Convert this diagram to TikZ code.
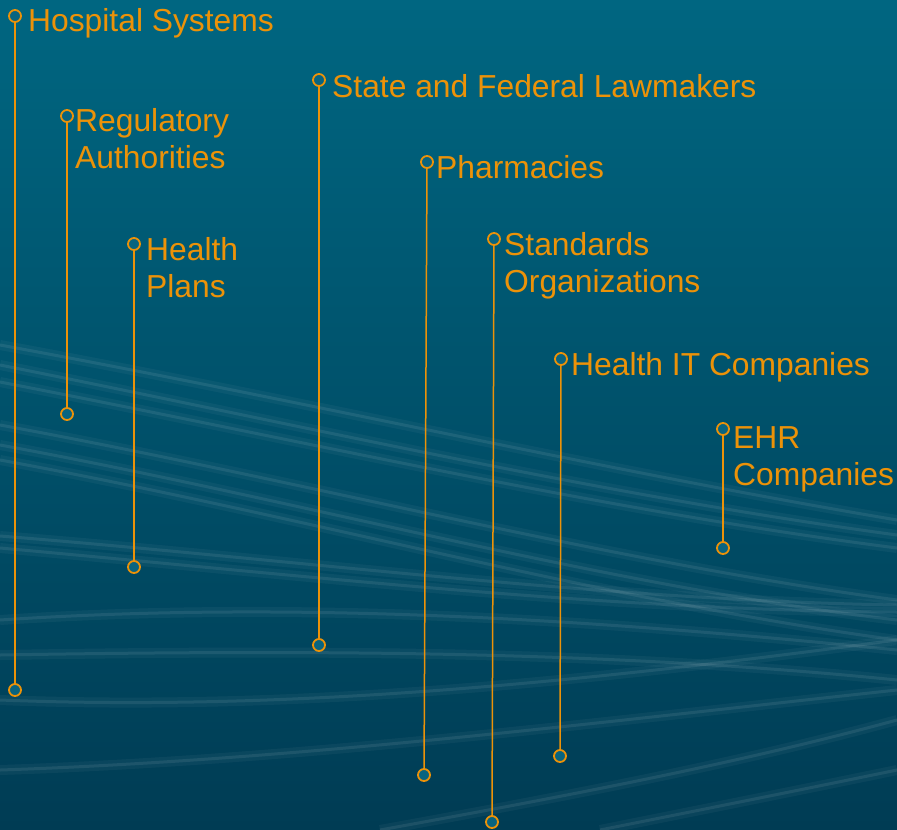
\documentclass[tikz,border=0pt]{standalone}
\usepackage{fontspec}
\setmainfont{Liberation Sans}
\usetikzlibrary{positioning}
\definecolor{tealtop}{RGB}{0,102,129}
\definecolor{tealbot}{RGB}{0,60,84}
\definecolor{dotfill}{RGB}{8,100,128}
\definecolor{amber}{RGB}{236,146,8}

\begin{document}
\begin{tikzpicture}[x=1pt,y=-1pt,
   dot/.style={circle,draw=amber,fill=dotfill,line width=1.8pt,inner sep=0pt,minimum size=12pt},
   stem/.style={amber,line width=1.5pt},
   lbl/.style={text=amber,anchor=base west,align=left,inner sep=0pt,font=\fontsize{31.8}{37}\selectfont},
   streak/.style={white,opacity=.08,line width=3pt,
      preaction={draw,white,opacity=.04,line width=10pt}}]
\useasboundingbox (0,0) rectangle (897,830);
\shade[top color=tealtop,bottom color=tealbot] (0,0) rectangle (897,830);
% soft light streaks
\begin{scope}
\clip (0,0) rectangle (897,830);
\draw[streak] (0,345) .. controls (300,400) and (600,470) .. (897,520);
\draw[streak] (0,365) .. controls (300,425) and (600,495) .. (897,535);
\draw[streak] (0,382) .. controls (300,440) and (600,510) .. (897,548);
\draw[streak] (0,425) .. controls (300,480) and (600,560) .. (897,600);
\draw[streak] (0,445) .. controls (300,500) and (600,585) .. (897,620);
\draw[streak] (0,460) .. controls (300,515) and (600,600) .. (897,640);
\draw[streak] (0,536) .. controls (300,560) and (600,600) .. (897,605);
\draw[streak] (0,548) .. controls (300,575) and (600,610) .. (897,612);
\draw[streak] (0,620) .. controls (300,600) and (600,620) .. (897,650);
\draw[streak] (0,655) .. controls (300,650) and (600,650) .. (897,680);
\draw[streak] (0,700) .. controls (300,712) and (600,680) .. (897,640);
\draw[streak] (0,770) .. controls (300,760) and (600,722) .. (897,690);
\draw[streak] (380,830) .. controls (600,790) and (750,760) .. (897,720);
\draw[streak] (600,830) .. controls (700,810) and (800,790) .. (897,770);
\end{scope}

\node[dot] (hospT) at (15,16) {};
\node[dot] (hospB) at (15,690) {};
\node[dot] (regT) at (67,116) {};
\node[dot] (regB) at (67,414) {};
\node[dot] (planT) at (134,244) {};
\node[dot] (planB) at (134,567) {};
\node[dot] (lawT) at (319,80) {};
\node[dot] (lawB) at (319,645) {};
\node[dot] (pharmT) at (427,162) {};
\node[dot] (pharmB) at (424,775) {};
\node[dot] (stdT) at (494,239) {};
\node[dot] (stdB) at (492,822) {};
\node[dot] (hitT) at (561,359) {};
\node[dot] (hitB) at (560,756) {};
\node[dot] (ehrT) at (723,429) {};
\node[dot] (ehrB) at (723,548) {};

\draw[stem] (hospT) -- (hospB);
\draw[stem] (regT) -- (regB);
\draw[stem] (planT) -- (planB);
\draw[stem] (lawT) -- (lawB);
\draw[stem] (pharmT) -- (pharmB);
\draw[stem] (stdT) -- (stdB);
\draw[stem] (hitT) -- (hitB);
\draw[stem] (ehrT) -- (ehrB);

\node[lbl] (hosp) at (28,31) {Hospital Systems};
\node[lbl] (reg) at (75,168) {Regulatory\\Authorities};
\node[lbl] (plan) at (146,297) {Health\\Plans};
\node[lbl] (law) at (332,97) {State and Federal Lawmakers};
\node[lbl] (pharm) at (436,178) {Pharmacies};
\node[lbl] (std) at (504,292) {Standards\\Organizations};
\node[lbl] (hit) at (571,375) {Health IT Companies};
\node[lbl] (ehr) at (733,485) {EHR\\Companies};
\end{tikzpicture}
\end{document}
